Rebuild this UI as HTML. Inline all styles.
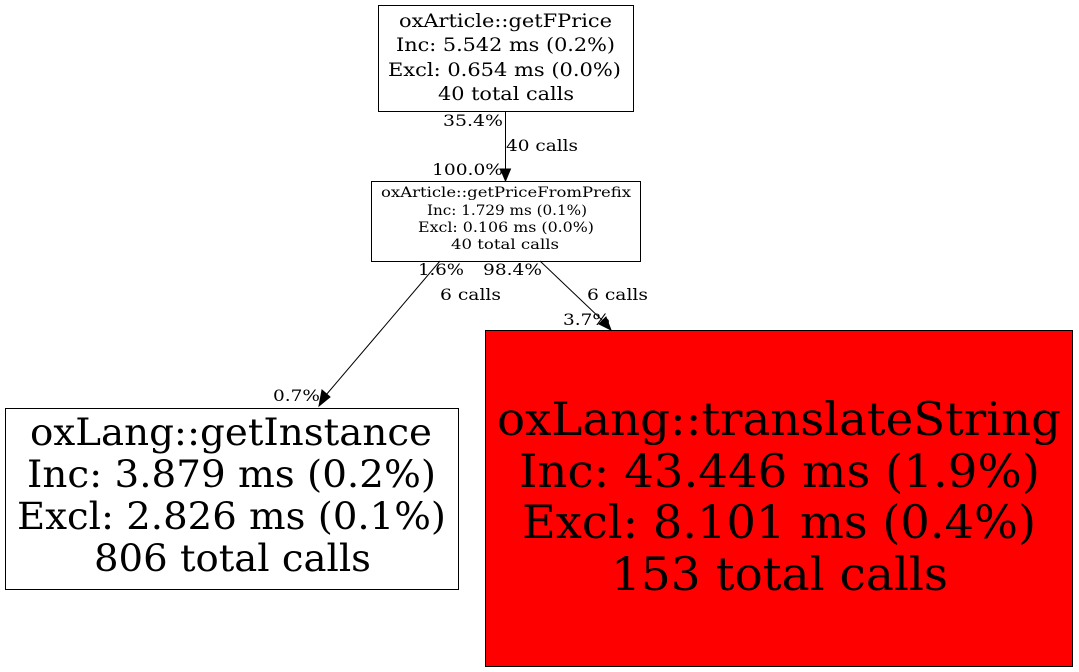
<!DOCTYPE html>
<html><head><meta charset="utf-8"><style>
html,body{margin:0;padding:0;background:#fff;}
svg{display:block;}
text{font-family:"DejaVu Serif","Liberation Serif",serif;fill:#000;}
</style></head><body>
<svg width="1079" height="672" viewBox="0 0 1079 672" xmlns="http://www.w3.org/2000/svg">
<rect x="0" y="0" width="1079" height="672" fill="#fff"/>
<rect x="378.5" y="5.5" width="255" height="106" fill="#fff" stroke="#000"/>
<g font-size="18.5">
<text x="399" y="27" textLength="213" lengthAdjust="spacingAndGlyphs">oxArticle::getFPrice</text>
<text x="396" y="51" textLength="219" lengthAdjust="spacingAndGlyphs">Inc: 5.542 ms (0.2%)</text>
<text x="388" y="76" textLength="233" lengthAdjust="spacingAndGlyphs">Excl: 0.654 ms (0.0%)</text>
<text x="438" y="100" textLength="136" lengthAdjust="spacingAndGlyphs">40 total calls</text>
</g>
<line x1="505.5" y1="111" x2="505.5" y2="170" stroke="#000"/>
<polygon points="500.5,169 510.5,169 505.5,181" fill="#000" stroke="#000"/>
<g font-size="15.5">
<text x="443" y="126" textLength="60" lengthAdjust="spacingAndGlyphs">35.4%</text>
<text x="506" y="151" textLength="72" lengthAdjust="spacingAndGlyphs">40 calls</text>
<text x="432" y="175" textLength="71" lengthAdjust="spacingAndGlyphs">100.0%</text>
</g>
<rect x="371.5" y="181.5" width="269" height="80" fill="#fff" stroke="#000"/>
<g font-size="13.5">
<text x="381" y="197" textLength="250" lengthAdjust="spacingAndGlyphs">oxArticle::getPriceFromPrefix</text>
<text x="427" y="215" textLength="160" lengthAdjust="spacingAndGlyphs">Inc: 1.729 ms (0.1%)</text>
<text x="418" y="232" textLength="176" lengthAdjust="spacingAndGlyphs">Excl: 0.106 ms (0.0%)</text>
<text x="451" y="249" textLength="108" lengthAdjust="spacingAndGlyphs">40 total calls</text>
</g>
<line x1="440" y1="261" x2="326" y2="395" stroke="#000"/>
<polygon points="322,390 330,397 319,406" fill="#000" stroke="#000"/>
<line x1="540" y1="261" x2="603" y2="321" stroke="#000"/>
<polygon points="599,324 606,317 611,330" fill="#000" stroke="#000"/>
<g font-size="15.5">
<text x="418" y="275" textLength="46" lengthAdjust="spacingAndGlyphs">1.6%</text>
<text x="440" y="300" textLength="61" lengthAdjust="spacingAndGlyphs">6 calls</text>
<text x="273" y="401" textLength="47" lengthAdjust="spacingAndGlyphs">0.7%</text>
<text x="483" y="275" textLength="59" lengthAdjust="spacingAndGlyphs">98.4%</text>
<text x="587" y="300" textLength="61" lengthAdjust="spacingAndGlyphs">6 calls</text>
<text x="563" y="325" textLength="47" lengthAdjust="spacingAndGlyphs">3.7%</text>
</g>
<rect x="5.5" y="408.5" width="453" height="181" fill="#fff" stroke="#000"/>
<g font-size="37">
<text x="30" y="445" textLength="402" lengthAdjust="spacingAndGlyphs">oxLang::getInstance</text>
<text x="27" y="487" textLength="409" lengthAdjust="spacingAndGlyphs">Inc: 3.879 ms (0.2%)</text>
<text x="17" y="529" textLength="429" lengthAdjust="spacingAndGlyphs">Excl: 2.826 ms (0.1%)</text>
<text x="94" y="571" textLength="277" lengthAdjust="spacingAndGlyphs">806 total calls</text>
</g>
<rect x="485.5" y="330.5" width="587" height="336" fill="#ff0000" stroke="#000"/>
<g font-size="46">
<text x="497" y="435" textLength="564" lengthAdjust="spacingAndGlyphs">oxLang::translateString</text>
<text x="519" y="487" textLength="521" lengthAdjust="spacingAndGlyphs">Inc: 43.446 ms (1.9%)</text>
<text x="522" y="538" textLength="514" lengthAdjust="spacingAndGlyphs">Excl: 8.101 ms (0.4%)</text>
<text x="611" y="590" textLength="337" lengthAdjust="spacingAndGlyphs">153 total calls</text>
</g>
</svg>
</body></html>
